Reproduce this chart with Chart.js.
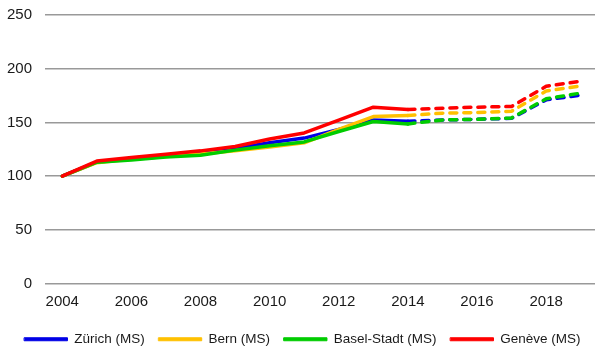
<!DOCTYPE html>
<html>
<head>
<meta charset="utf-8">
<script src="https://cdn.jsdelivr.net/npm/chart.js@4/dist/chart.umd.min.js"></script>
<style>
  html, body { margin: 0; padding: 0; background: #fff; overflow: hidden; }
  #wrap { width: 600px; height: 356px; }
</style>
</head>
<body>
<div id="wrap"><canvas id="c" width="600" height="356"></canvas></div>
<script>
// Index values per year (2004 = 100); from 2014 on the lines are projections
const years = ['2004','2005','2006','2007','2008','2009','2010','2011','2012','2013','2014','2015','2016','2017','2018','2019'];
const zurich = [100, 113, 116.3, 119, 122, 125.7, 131, 135.4, 143.5, 152.3, 151, 152.3, 152.9, 153.8, 171, 175.4];
const bern   = [100, 112.5, 115.8, 118.3, 120.5, 123.5, 127, 131, 143.5, 155.4, 156.4, 158.6, 159.2, 160.4, 179.2, 183.9];
const basel  = [100, 113, 115.1, 117.8, 119.5, 124.2, 128.2, 131.8, 141.5, 150.8, 148.6, 152.3, 152.9, 154.2, 172, 177.3];
const geneve = [100, 114, 117.3, 120.4, 123.5, 127.6, 134.5, 140.2, 152.2, 164.2, 162, 163.2, 164.2, 164.8, 183.6, 188.3];
const seriesNames = ['Zürich (MS)', 'Bern (MS)', 'Basel-Stadt (MS)', 'Genève (MS)'];
const projectionStart = years.indexOf('2014');

const FONT = '"Liberation Sans", Arial, sans-serif';

function makeSet(label, data, color, order) {
  return {
    label, data, order,
    borderColor: color,
    backgroundColor: color,
    borderWidth: 3.5,
    borderCapStyle: 'round',
    borderJoinStyle: 'round',
    pointRadius: 0,
    pointHoverRadius: 0,
    tension: 0,
    segment: {
      borderDash: ctx => ctx.p0DataIndex >= projectionStart ? [7, 7] : undefined
    }
  };
}

new Chart(document.getElementById('c'), {
  type: 'line',
  data: {
    labels: years,
    datasets: [
      makeSet(seriesNames[0], zurich, '#0000E6', 4),
      makeSet(seriesNames[1], bern,   '#FFC000', 3),
      makeSet(seriesNames[2], basel,  '#00CC00', 2),
      makeSet(seriesNames[3], geneve, '#FF0000', 1)
    ]
  },
  options: {
    responsive: false,
    animation: false,
    events: [],
    layout: { padding: { left: 7, right: 2, top: 15, bottom: 0 } },
    scales: {
      x: {
        offset: true,
        grid: { display: false, drawTicks: false },
        border: { display: false },
        afterFit: scale => { scale.height = 35; },
        ticks: {
          autoSkip: false,
          maxRotation: 0,
          padding: 9,
          color: '#1a1a1a',
          font: { family: FONT, size: 15 },
          callback: function (v, i) { return i % 2 === 0 ? this.getLabelForValue(v) : ''; }
        }
      },
      y: {
        min: 0, max: 250,
        grid: { color: '#999999', lineWidth: 1.5, drawTicks: false },
        border: { display: false },
        afterFit: scale => { scale.width = 38; scale.paddingTop = 0; },
        ticks: {
          stepSize: 50,
          padding: 13,
          color: '#1a1a1a',
          font: { family: FONT, size: 15 }
        }
      }
    },
    plugins: {
      tooltip: { enabled: false },
      legend: {
        position: 'bottom',
        labels: {
          boxWidth: 43,
          boxHeight: 3,
          padding: 14,
          color: '#1a1a1a',
          font: { family: FONT, size: 13.5 },
          sort: (a, b) => a.datasetIndex - b.datasetIndex,
          generateLabels: chart => Chart.defaults.plugins.legend.labels.generateLabels(chart).map(item => {
            item.lineWidth = 1;
            item.lineDash = [];
            return item;
          })
        }
      }
    }
  }
});
</script>
</body>
</html>
